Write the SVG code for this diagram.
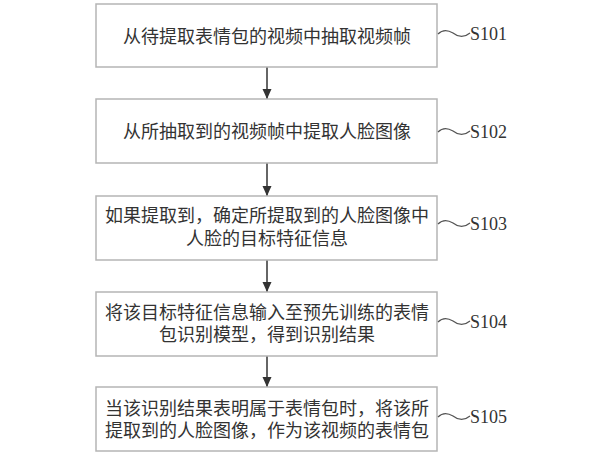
<svg xmlns="http://www.w3.org/2000/svg" width="600" height="457" viewBox="0 0 600 457">
<style>
.box{fill:#fff;stroke:#b5b5b5;stroke-width:1.5}
.t{font-family:"Liberation Serif","Noto Sans CJK SC",serif;font-size:18px;fill:#333;text-anchor:middle}
.lbl{font-family:"Liberation Serif","Noto Sans CJK SC",serif;font-size:18px;fill:#333}
.wave{fill:none;stroke:#555;stroke-width:1.2}
.conn{stroke:#333;stroke-width:1.5;fill:none}
</style>
<defs>
<marker id="ah" viewBox="0 0 10 10" refX="10" refY="5" markerWidth="10" markerHeight="10" markerUnits="userSpaceOnUse" orient="auto">
<path d="M0,0.5 L10,5 L0,9.5 Z" fill="#333"/>
</marker>
</defs>
<rect width="600" height="457" fill="#fff"/>
<g id="connectors">
<line class="conn" x1="267" y1="67" x2="267" y2="99" marker-end="url(#ah)"/>
<line class="conn" x1="267" y1="163" x2="267" y2="196" marker-end="url(#ah)"/>
<line class="conn" x1="267" y1="260" x2="267" y2="292" marker-end="url(#ah)"/>
<line class="conn" x1="267" y1="356" x2="267" y2="387" marker-end="url(#ah)"/>
</g>
<g id="S101">
<rect class="box" x="96" y="4" width="341" height="63"/>
<text class="t" x="267" y="43">从待提取表情包的视频中抽取视频帧</text>
<path class="wave" d="M438,34 C443,29 448,30 453,33 C458,37 464,38 470,33"/>
<text class="lbl" x="470" y="40">S101</text>
</g>
<g id="S102">
<rect class="box" x="96" y="99" width="341" height="64"/>
<text class="t" x="267" y="138">从所抽取到的视频帧中提取人脸图像</text>
<path class="wave" d="M438,132 C443,127 448,128 453,131 C458,135 464,136 470,131"/>
<text class="lbl" x="470" y="138">S102</text>
</g>
<g id="S103">
<rect class="box" x="96" y="196" width="341" height="64"/>
<text class="t" x="267" y="222">如果提取到，确定所提取到的人脸图像中</text>
<text class="t" x="267" y="245">人脸的目标特征信息</text>
<path class="wave" d="M438,224 C443,219 448,220 453,223 C458,227 464,228 470,223"/>
<text class="lbl" x="470" y="230">S103</text>
</g>
<g id="S104">
<rect class="box" x="96" y="292" width="341" height="64"/>
<text class="t" x="267" y="319">将该目标特征信息输入至预先训练的表情</text>
<text class="t" x="267" y="341">包识别模型，得到识别结果</text>
<path class="wave" d="M438,322 C443,317 448,318 453,321 C458,325 464,326 470,321"/>
<text class="lbl" x="470" y="328">S104</text>
</g>
<g id="S105">
<rect class="box" x="96" y="387" width="341" height="64"/>
<text class="t" x="267" y="415">当该识别结果表明属于表情包时，将该所</text>
<text class="t" x="267" y="437">提取到的人脸图像，作为该视频的表情包</text>
<path class="wave" d="M438,417 C443,412 448,413 453,416 C458,420 464,421 470,416"/>
<text class="lbl" x="470" y="423">S105</text>
</g>
</svg>
